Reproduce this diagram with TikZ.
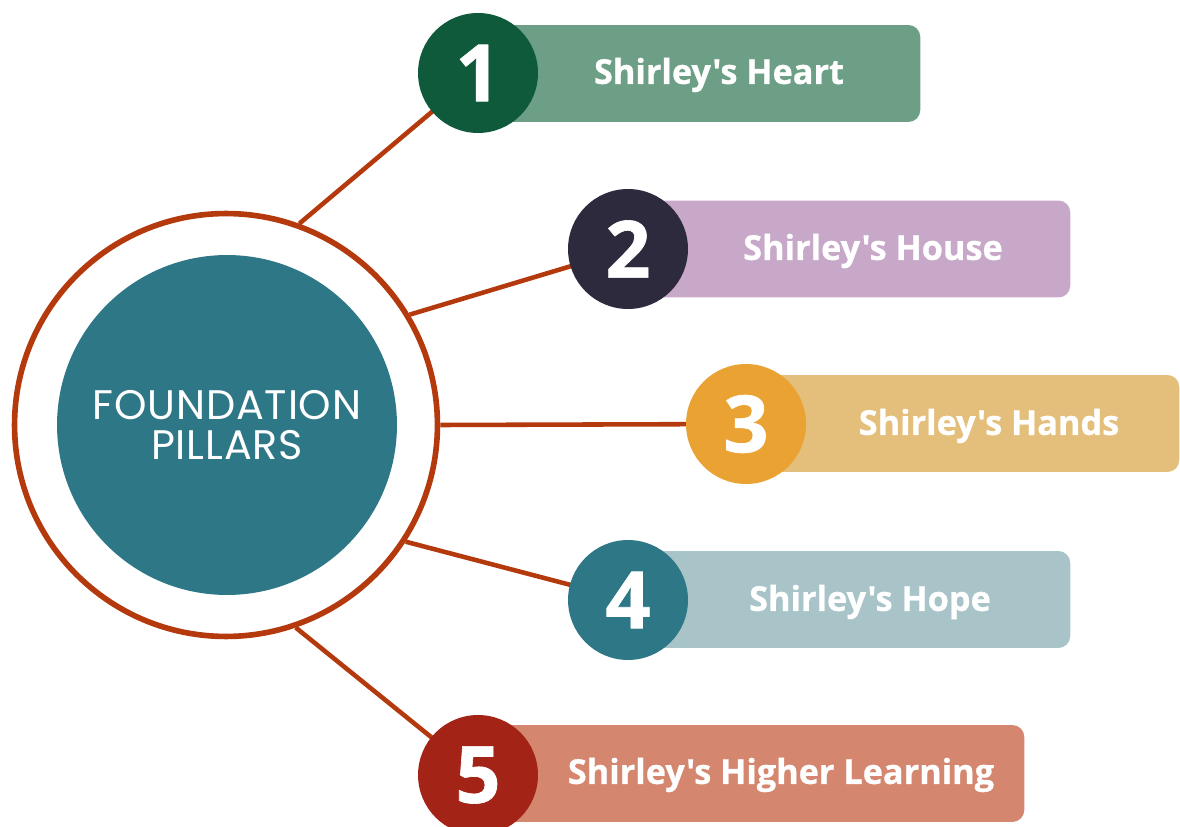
\documentclass[tikz,border=0pt]{standalone}
\usepackage{fontspec}
\setmainfont{Open Sans}[Ligatures=TeXOff, BoldFeatures={FakeBold=0.8}]
\newfontfamily\pillarfont{Poppins}[LetterSpace=2]
\usetikzlibrary{backgrounds}

\definecolor{rust}{RGB}{180,58,14}
\definecolor{pillarteal}{RGB}{46,119,135}
\definecolor{numA}{RGB}{15,90,59}
\definecolor{barA}{RGB}{109,159,134}
\definecolor{numB}{RGB}{46,42,61}
\definecolor{barB}{RGB}{200,168,200}
\definecolor{numC}{RGB}{234,162,50}
\definecolor{barC}{RGB}{228,190,123}
\definecolor{numD}{RGB}{46,119,135}
\definecolor{barD}{RGB}{169,196,201}
\definecolor{numE}{RGB}{163,35,23}
\definecolor{barE}{RGB}{212,134,110}

\begin{document}
\begin{tikzpicture}[x=0.02cm, y=-0.02cm,
  num/.style={circle, minimum size=2.4cm, inner sep=0pt, text=white,
    font=\bfseries\fontsize{45}{45}\selectfont},
  bar/.style={rounded corners=6.8pt, minimum height=1.94cm, inner sep=0pt, anchor=west},
  lbl/.style={text=white, font=\bfseries\fontsize{19.5}{19.5}\selectfont},
  link/.style={draw=rust, line width=2.6pt}]

\useasboundingbox (0,0) rectangle (1180,827);

\def\xc{226}; % hub
\def\yc{425};

% hub
\node[circle, draw=rust, line width=3.2pt, fill=white, minimum size=8.46cm] (ring) at (\xc,\yc) {};
\node[circle, fill=pillarteal, minimum size=6.8cm, align=center, text=white,
  font=\pillarfont\fontsize{23.5}{23}\selectfont] (core) at (\xc+1,\yc) {FOUNDATION\\PILLARS};

% pillar 1
\node[bar, fill=barA, minimum width=8.84cm] (r1) at (478,73.5) {};
\node[num, fill=numA] (c1) at (478,73) {1};
\node[lbl] (t1) at (719,75) {Shirley's Heart};

% pillar 2
\node[bar, fill=barB, minimum width=8.84cm] (r2) at (628,249) {};
\node[num, fill=numB] (c2) at (628,249) {2};
\node[lbl] (t2) at (873,251) {Shirley's House};

% pillar 3
\node[bar, fill=barC, minimum width=8.66cm] (r3) at (746,423.5) {};
\node[num, fill=numC] (c3) at (746,424) {3};
\node[lbl] (t3) at (989,426) {Shirley's Hands};

% pillar 4
\node[bar, fill=barD, minimum width=8.84cm] (r4) at (628,599.5) {};
\node[num, fill=numD] (c4) at (628,600) {4};
\node[lbl] (t4) at (870,602) {Shirley's Hope};

% pillar 5
\node[bar, fill=barE, minimum width=10.92cm] (r5) at (478,773.5) {};
\node[num, fill=numE] (c5) at (478,775) {5};
\node[lbl] (t5) at (781,775) {Shirley's Higher Learning};

\begin{scope}[on background layer]
\draw[link] (ring.70) -- (c1.center);
\draw[link] (ring.31) -- (c2.center);
\draw[link] (ring.0) -- (c3.center);
\draw[link] (ring.-33) -- (c4.center);
\draw[link] (ring.-71) -- (c5.center);
\end{scope}

\end{tikzpicture}
\end{document}
